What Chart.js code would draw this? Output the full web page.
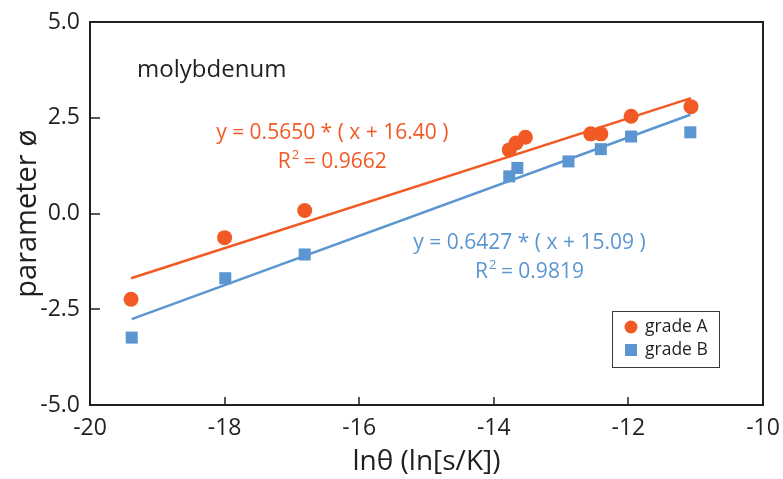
<!DOCTYPE html>
<html lang="en">
<head>
  <meta charset="UTF-8">
  <title>molybdenum</title>
  <script src="https://cdn.jsdelivr.net/npm/chart.js"></script>
  <style>
    body {
      margin: 0;
      background-color: #fff;
    }
    #wrap {
      width: 783px;
      height: 479px;
    }
  </style>
</head>
<body>
  <div id="wrap">
    <canvas id="chart" width="783" height="479"></canvas>
  </div>

  <script>
    // grade A (circles)
    const gradeAx = [-19.39, -18.00, -16.81, -13.77, -13.67, -13.53, -12.56, -12.41, -11.96, -11.07];
    const gradeAy = [-2.24, -0.63, 0.08, 1.66, 1.84, 1.99, 2.08, 2.08, 2.54, 2.79];
    // grade B (squares)
    const gradeBx = [-19.38, -17.99, -16.81, -13.77, -13.65, -12.89, -12.41, -11.96, -11.08];
    const gradeBy = [-3.24, -1.69, -1.07, 0.97, 1.19, 1.36, 1.68, 2.01, 2.12];

    // fitted lines: y = slope * (x + shift)
    const fitA = { slope: 0.5650, shift: 16.40, r2: '0.9662' };
    const fitB = { slope: 0.6427, shift: 15.09, r2: '0.9819' };

    const xTicks = [-20, -18, -16, -14, -12, -10];
    const yTicks = [-5.0, -2.5, 0.0, 2.5, 5.0];

    const orange = '#F15A24';
    const blue = '#5B96D1';
    const ink = '#231F20';
    const fontFamily = '"Open Sans", sans-serif';

    const toPoints = (xs, ys) => xs.map((x, i) => ({ x, y: ys[i] }));

    function fitLine(fit, xs) {
      const lo = Math.min(...xs);
      const hi = Math.max(...xs);
      return [lo, hi].map(x => ({ x, y: fit.slope * (x + fit.shift) }));
    }

    function eqText(fit) {
      return 'y = ' + fit.slope.toFixed(4) + ' * ( x + ' + fit.shift.toFixed(2) + ' )';
    }

    // text, frame, inward ticks and the legend box
    const decorations = {
      id: 'decorations',
      afterDraw(chart) {
        const { ctx, chartArea: a, scales: { x, y } } = chart;
        ctx.save();

        // frame
        ctx.strokeStyle = ink;
        ctx.lineWidth = 2;
        ctx.strokeRect(a.left, a.top, a.right - a.left, a.bottom - a.top);

        // ticks pointing into the plot
        ctx.lineWidth = 1.5;
        ctx.beginPath();
        xTicks.slice(1, -1).forEach(v => {
          const px = Math.round(x.getPixelForValue(v));
          ctx.moveTo(px, a.bottom);
          ctx.lineTo(px, a.bottom - 8);
        });
        yTicks.slice(1, -1).forEach(v => {
          const py = Math.round(y.getPixelForValue(v));
          ctx.moveTo(a.left, py);
          ctx.lineTo(a.left + 10, py);
        });
        ctx.stroke();

        // material name
        ctx.fillStyle = ink;
        ctx.font = '24px ' + fontFamily;
        ctx.textAlign = 'left';
        ctx.textBaseline = 'middle';
        ctx.fillText('molybdenum', x.getPixelForValue(-19.30), y.getPixelForValue(3.75));

        // equations
        const big = '21px ' + fontFamily;
        const small = '13px ' + fontFamily;
        const drawFit = (fit, color, cx, cy1, cy2) => {
          const px = x.getPixelForValue(cx);
          ctx.fillStyle = color;
          ctx.font = big;
          ctx.textAlign = 'center';
          ctx.fillText(eqText(fit), px, y.getPixelForValue(cy1));

          const py = y.getPixelForValue(cy2);
          const rest = ' = ' + fit.r2;
          ctx.font = big;
          const wR = ctx.measureText('R').width;
          const wRest = ctx.measureText(rest).width;
          ctx.font = small;
          const wSup = ctx.measureText('2').width;
          const left = px - (wR + wSup + wRest) / 2;
          ctx.textAlign = 'left';
          ctx.font = big;
          ctx.fillText('R', left, py);
          ctx.font = small;
          ctx.fillText('2', left + wR + 1, py - 7);
          ctx.font = big;
          ctx.fillText(rest, left + wR + wSup, py);
        };
        drawFit(fitA, orange, -16.40, 2.10, 1.34);
        drawFit(fitB, blue, -13.47, -0.77, -1.53);

        // legend
        const lx = 612, ly = 311;
        ctx.strokeStyle = '#3a3a3a';
        ctx.lineWidth = 1;
        ctx.strokeRect(lx + 0.5, ly + 0.5, 107, 56);
        ctx.fillStyle = orange;
        ctx.beginPath();
        ctx.arc(lx + 19, ly + 16, 6.5, 0, Math.PI * 2);
        ctx.fill();
        ctx.fillStyle = blue;
        ctx.fillRect(lx + 13, ly + 33, 12, 12);
        ctx.fillStyle = ink;
        ctx.font = '17.5px ' + fontFamily;
        ctx.textAlign = 'left';
        ctx.fillText('grade A', lx + 33, ly + 16);
        ctx.fillText('grade B', lx + 33, ly + 39);

        ctx.restore();
      }
    };

    new Chart(document.getElementById('chart'), {
      type: 'scatter',
      data: {
        datasets: [
          {
            label: 'grade A fit',
            type: 'line',
            data: fitLine(fitA, gradeAx),
            borderColor: orange,
            borderWidth: 2.5,
            pointRadius: 0,
            fill: false,
          },
          {
            label: 'grade B fit',
            type: 'line',
            data: fitLine(fitB, gradeBx),
            borderColor: blue,
            borderWidth: 2.5,
            pointRadius: 0,
            fill: false,
          },
          {
            label: 'grade A',
            data: toPoints(gradeAx, gradeAy),
            pointStyle: 'circle',
            pointRadius: 7.5,
            backgroundColor: orange,
            borderWidth: 0,
          },
          {
            label: 'grade B',
            data: toPoints(gradeBx, gradeBy),
            pointStyle: 'rect',
            pointRadius: 8.5,
            backgroundColor: blue,
            borderWidth: 0,
          },
        ],
      },
      options: {
        responsive: false,
        animation: false,
        layout: { padding: { top: 22, right: 20, left: 0, bottom: 0 } },
        plugins: {
          legend: { display: false },
          tooltip: { enabled: false },
        },
        scales: {
          x: {
            type: 'linear',
            min: -20,
            max: -10,
            afterBuildTicks: s => { s.ticks = xTicks.map(value => ({ value })); },
            afterFit: s => { s.height = 74; },
            grid: { display: false },
            border: { display: false },
            ticks: {
              color: ink,
              font: { family: fontFamily, size: 23 },
              padding: 2,
              callback: v => String(v),
            },
            title: {
              display: true,
              text: 'lnθ (ln[s/K])',
              color: ink,
              font: { family: fontFamily, size: 28 },
              padding: { top: 0, bottom: 0 },
            },
          },
          y: {
            type: 'linear',
            min: -5,
            max: 5,
            afterBuildTicks: s => { s.ticks = yTicks.map(value => ({ value })); },
            afterFit: s => { s.width = 90; },
            grid: { display: false },
            border: { display: false },
            ticks: {
              color: ink,
              font: { family: fontFamily, size: 23 },
              padding: 2,
              callback: v => v.toFixed(1),
            },
            title: {
              display: true,
              text: 'parameter ø',
              color: ink,
              font: { family: fontFamily, size: 29 },
              padding: { top: 10, bottom: 0 },
            },
          },
        },
      },
      plugins: [decorations],
    });
  </script>
</body>
</html>
